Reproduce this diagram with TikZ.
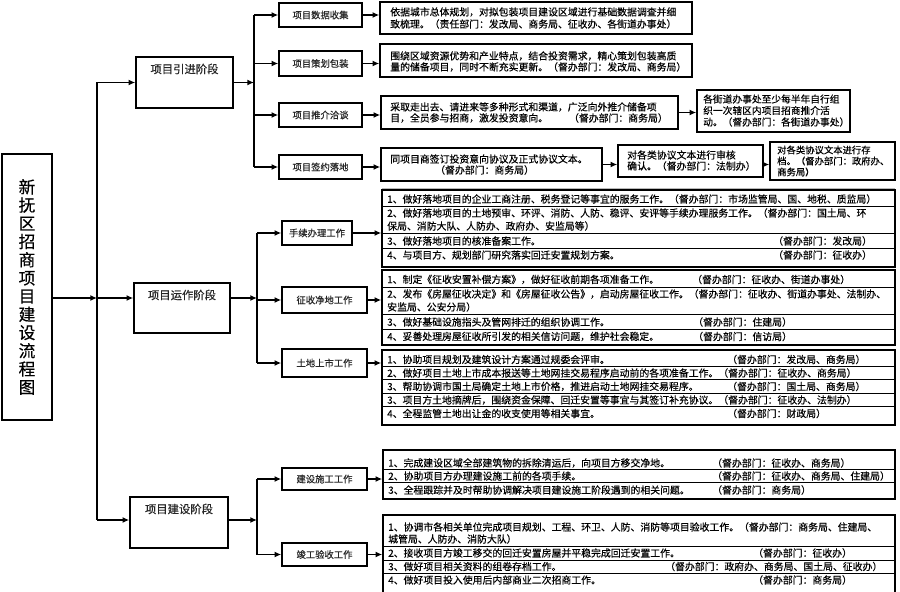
\documentclass[tikz,border=0pt]{standalone}
\usepackage{fontspec}
\setmainfont{Noto Sans CJK SC}[FakeBold=0.35]
\usetikzlibrary{arrows.meta,fit}
\begin{document}
\begin{tikzpicture}[x=0.75pt,y=-0.75pt,
  box/.style={draw, line width=1.15pt, inner sep=0pt},
  tx/.style={font=\fontsize{7.4}{9}\selectfont, inner sep=0pt, anchor=west, text=black},
  lab/.style={font=\fontsize{7}{8}\selectfont, inner sep=0pt, text=black!85},
  phl/.style={font=\fontsize{8.5}{9}\selectfont, inner sep=0pt, text=black!85},
  arr/.style={-{Latex[length=5pt,width=4.5pt]}, line width=1pt},
  ln/.style={line width=1pt},
  sep/.style={line width=0.6pt}]
\useasboundingbox[fill=white] (0,0) rectangle (900,592);

% ---------- title ----------
\node[box, fit={(2,154)(52,420)}] (title) {};
\node[font=\fontsize{12.5}{13.65}\selectfont, align=center, inner sep=0pt] (tt) at (title.center)
  {新\\抚\\区\\招\\商\\项\\目\\建\\设\\流\\程\\图};

% ---------- phase boxes ----------
\node[box, fit={(136,57)(233,108)}] (p1) {};
\node[phl] (p1t) at (184.5,69) {项目引进阶段};
\node[box, fit={(134,283)(230,333)}] (p2) {};
\node[phl] (p2t) at (182,295) {项目运作阶段};
\node[box, fit={(130,497)(228,548)}] (p3) {};
\node[phl] (p3t) at (179,509) {项目建设阶段};

% trunk
\coordinate (j1) at (97,82.5);
\coordinate (jt) at (97,298);
\coordinate (j3) at (97,520);
\draw[ln] (j1) -- (j3);
\draw[arr] (title.east |- jt) -- (jt);
\draw[arr] (jt) -- (p2.west |- jt);
\draw[arr] (j1) -- (p1.west |- j1);
\draw[arr] (j3) -- (p3.west |- j3);

% ---------- phase 1 ----------
\coordinate (v1) at (254,0);
\node[box, fit={(279,3)(362,27)}] (a1) {};
\node[lab] (a1t) at (a1.center) {项目数据收集};
\node[box, fit={(279,51)(362,76)}] (a2) {};
\node[lab] (a2t) at (a2.center) {项目策划包装};
\node[box, fit={(279,103)(362,127)}] (a3) {};
\node[lab] (a3t) at (a3.center) {项目推介洽谈};
\node[box, fit={(279,155)(362,179)}] (a4) {};
\node[lab] (a4t) at (a4.center) {项目签约落地};
\draw[arr] (p1.east) -- (p1.east -| v1);
\draw[ln] (a1.west -| v1) -- (a4.west -| v1);
\foreach \n in {a1,a2,a3,a4} \draw[arr] (\n.west -| v1) -- (\n.west);

\node[box, fit={(380,2)(692,34)}] (d1) {};
\node[tx] (d1a) at (390,12) {依据城市总体规划，对拟包装项目建设区域进行基础数据调查并细};
\node[tx] (d1b) at (390,24) {致梳理。（责任部门：发改局、商务局、征收办、各街道办事处）};
\node[box, fit={(380,44)(692,77)}] (d2) {};
\node[tx] (d2a) at (390,56) {围绕区域资源优势和产业特点，结合投资需求，精心策划包装高质};
\node[tx] (d2b) at (390,67) {量的储备项目，同时不断充实更新。（督办部门：发改局、商务局）};
\node[box, fit={(381,96)(678,129)}] (d3) {};
\node[tx] (d3a) at (390,107) {采取走出去、请进来等多种形式和渠道，广泛向外推介储备项};
\node[tx] (d3b) at (390,118) {目，全员参与招商，激发投资意向。};
\node[tx, anchor=east] (d3c) at (668,118) {（督办部门：商务局）};
\node[box, fit={(697,90)(850,132)}] (e3b) {};
\node[tx, font=\fontsize{7.3}{9}\selectfont] (e3ba) at (703,99) {各街道办事处至少每半年自行组};
\node[tx, font=\fontsize{7.3}{9}\selectfont] (e3bb) at (703,110.5) {织一次辖区内项目招商推介活};
\node[tx, font=\fontsize{7.3}{9}\selectfont] (e3bc) at (703,122) {动。（督办部门：各街道办事处）};
\node[box, fit={(381,148)(602,181)}] (d4) {};
\node[tx] (d4a) at (390,159) {同项目商签订投资意向协议及正式协议文本。};
\node[tx] (d4b) at (435,170) {（督办部门：商务局）};
\node[box, fit={(618,145)(763,177)}] (g4) {};
\node[tx] (g4a) at (627,155) {对各类协议文本进行审核};
\node[tx] (g4b) at (627,166) {确认。（督办部门：法制办）};
\node[box, fit={(770,142)(895,180)}] (h4) {};
\node[tx, font=\fontsize{7}{9}\selectfont] (h4a) at (777,150) {对各类协议文本进行存};
\node[tx, font=\fontsize{7}{9}\selectfont] (h4b) at (777,161) {档。（督办部门：政府办、};
\node[tx, font=\fontsize{7}{9}\selectfont] (h4c) at (777,172) {商务局）};

\foreach \s/\t in {a1/d1,a2/d2,a3/d3,a4/d4} \draw[arr] (\s.east) -- (\s.east -| \t.west);
\draw[arr] (d3.east) -- (d3.east -| e3b.west);
\draw[arr] (d4.east) -- (d4.east -| g4.west);
\draw[arr] (g4.east |- d4.east) -- (h4.west |- d4.east);
\draw[gray!55, line width=0.8pt] (382,188.5) -- (895,188.5);

% ---------- phase 2 ----------
\coordinate (v2) at (257,0);
\node[box, fit={(282,221)(352,245)}] (s1) {};
\node[lab] (s1t) at (s1.center) {手续办理工作};
\node[box, fit={(282,287)(367,313)}] (s2) {};
\node[lab] (s2t) at (s2.center) {征收净地工作};
\node[box, fit={(282,349)(367,377)}] (s3) {};
\node[lab] (s3t) at (s3.center) {土地上市工作};
\draw[arr] (p2.east |- jt) -- (jt -| v2);
\draw[ln] (s1.west -| v2) -- (s3.west -| v2);
\foreach \n in {s1,s2,s3} \draw[arr] (\n.west -| v2) -- (\n.west);

\node[box, fit={(382,190)(895,267)}] (e1) {};
\draw[sep] (382,206) -- (895,206) (382,233.5) -- (895,233.5) (382,248) -- (895,248);
\node[tx] (e1a) at (387,199) {1、做好落地项目的企业工商注册、税务登记等事宜的服务工作。（督办部门：市场监管局、国、地税、质监局）};
\node[tx] (e1b) at (387,213) {2、做好落地项目的土地预审、环评、消防、人防、稳评、安评等手续办理服务工作。（督办部门：国土局、环};
\node[tx] (e1c) at (387,226) {保局、消防大队、人防办、政府办、安监局等）};
\node[tx] (e1d) at (387,241) {3、做好落地项目的核准备案工作。};
\node[tx] (e1d2) at (773,241) {（督办部门：发改局）};
\node[tx] (e1e) at (387,255) {4、与项目方、规划部门研究落实回迁安置规划方案。};
\node[tx] (e1e2) at (773,255) {（督办部门：征收办）};

\node[box, fit={(382,270)(895,345)}] (e2) {};
\draw[sep] (382,287) -- (895,287) (382,314.5) -- (895,314.5) (382,329) -- (895,329);
\node[tx] (e2a) at (387,279.5) {1、制定《征收安置补偿方案》，做好征收前期各项准备工作。};
\node[tx] (e2a2) at (692,279.5) {（督办部门：征收办、街道办事处）};
\node[tx] (e2b) at (387,294) {2、发布《房屋征收决定》和《房屋征收公告》，启动房屋征收工作。（督办部门：征收办、街道办事处、法制办、};
\node[tx] (e2c) at (387,307) {安监局、公安分局）};
\node[tx] (e2d) at (387,322) {3、做好基础设施指头及管网排迁的组织协调工作。};
\node[tx] (e2d2) at (693,322) {（督办部门：住建局）};
\node[tx] (e2e) at (387,336.5) {4、妥善处理房屋征收所引发的相关信访问题，维护社会稳定。};
\node[tx] (e2e2) at (693,336.5) {（督办部门：信访局）};

\node[box, fit={(382,350)(895,425)}] (e3) {};
\draw[sep] (382,366.3) -- (895,366.3) (382,379.8) -- (895,379.8) (382,393.3) -- (895,393.3) (382,406.8) -- (895,406.8);
\node[tx] (e3a) at (387,359.5) {1、协助项目规划及建筑设计方案通过规委会评审。};
\node[tx] (e3a2) at (727,359.5) {（督办部门：发改局、商务局）};
\node[tx] (e3bx) at (387,373) {2、做好项目土地上市成本报送等土地网挂交易程序启动前的各项准备工作。（督办部门：征收办、商务局）};
\node[tx] (e3c) at (387,386.5) {3、帮助协调市国土局确定土地上市价格，推进启动土地网挂交易程序。};
\node[tx] (e3c2) at (727,386.5) {（督办部门：国土局、商务局）};
\node[tx] (e3d) at (387,400) {3、项目方土地摘牌后，围绕资金保障、回迁安置等事宜与其签订补充协议。（督办部门：征收办、法制办）};
\node[tx] (e3e) at (387,413.5) {4、全程监管土地出让金的收支使用等相关事宜。};
\node[tx] (e3e2) at (727,413.5) {（督办部门：财政局）};

\foreach \s/\t in {s1/e1,s2/e2,s3/e3} \draw[arr] (\s.east) -- (\s.east -| \t.west);

% ---------- phase 3 ----------
\node[box, fit={(282,468)(367,490)}] (c1) {};
\node[lab] (c1t) at (c1.center) {建设施工工作};
\node[box, fit={(282,543)(367,566)}] (c2) {};
\node[lab] (c2t) at (c2.center) {竣工验收工作};
\draw[arr] (p3.east |- j3) -- (j3 -| v2);
\draw[ln] (c1.west -| v2) -- (c2.west -| v2);
\foreach \n in {c1,c2} \draw[arr] (\n.west -| v2) -- (\n.west);

\node[box, fit={(383,450)(895,499)}] (f1) {};
\draw[sep] (383,469.5) -- (895,469.5) (383,482.5) -- (895,482.5);
\node[tx] (f1a) at (388,463) {1、完成建设区域全部建筑物的拆除清运后，向项目方移交净地。};
\node[tx] (f1a2) at (712,463) {（督办部门：征收办、商务局）};
\node[tx] (f1b) at (388,476) {2、协助项目方办理建设施工前的各项手续。};
\node[tx] (f1b2) at (712,476) {（督办部门：征收办、商务局、住建局）};
\node[tx] (f1c) at (388,490) {3、全程跟踪并及时帮助协调解决项目建设施工阶段遇到的相关问题。};
\node[tx] (f1c2) at (712,490) {（督办部门：商务局）};

\node[box, fit={(383,515)(895,605)}] (f2) {};
\draw[sep] (383,546) -- (895,546) (383,560) -- (895,560) (383,573) -- (895,573);
\node[tx] (f2a) at (388,527) {1、协调市各相关单位完成项目规划、工程、环卫、人防、消防等项目验收工作。（督办部门：商务局、住建局、};
\node[tx] (f2b) at (388,539) {城管局、人防办、消防大队）};
\node[tx] (f2c) at (388,553) {2、接收项目方竣工移交的回迁安置房屋并平稳完成回迁安置工作。};
\node[tx] (f2c2) at (753,553) {（督办部门：征收办）};
\node[tx] (f2d) at (388,566.5) {3、做好项目相关资料的组卷存档工作。};
\node[tx] (f2d2) at (665,566.5) {（督办部门：政府办、商务局、国土局、征收办）};
\node[tx] (f2e) at (388,580) {4、做好项目投入使用后内部商业二次招商工作。};
\node[tx] (f2e2) at (753,580) {（督办部门：商务局）};

\draw[arr] (c1.east) -- (c1.east -| f1.west);
\draw[arr] (c2.east) -- (c2.east -| f2.west);
\end{tikzpicture}
\end{document}
